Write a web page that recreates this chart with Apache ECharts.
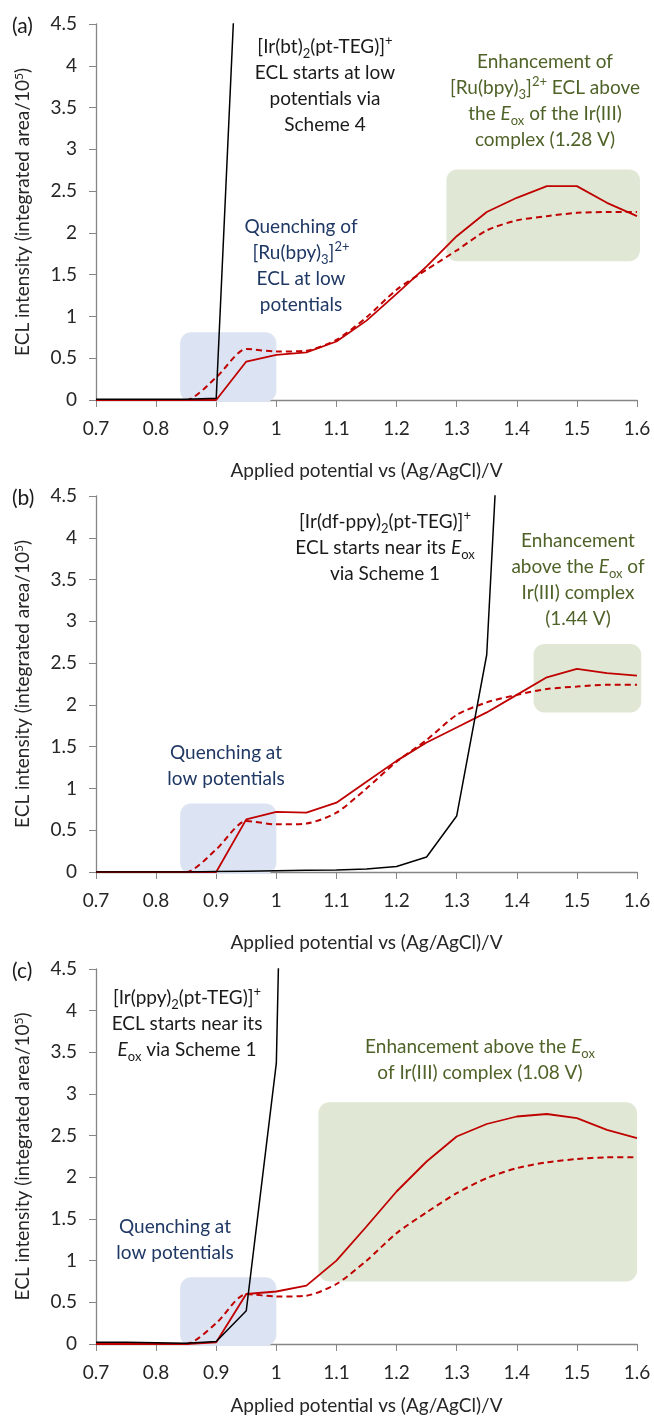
<!DOCTYPE html>
<html><head><meta charset="utf-8">
<script src="https://cdn.jsdelivr.net/npm/echarts@6/dist/echarts.min.js"></script>
<style>html,body{margin:0;padding:0;background:#fff}#c{width:654px;height:1416px}</style>
</head><body><div id="c"></div>
<script>
// ---- data ----
const potentials = [0.7,0.75,0.8,0.85,0.9,0.95,1.0,1.05,1.1,1.15,1.2,1.25,1.3,1.35,1.4,1.45,1.5,1.55,1.6];
const xTicks = [0.7,0.8,0.9,1,1.1,1.2,1.3,1.4,1.5,1.6];
const yTicks = [0,0.5,1,1.5,2,2.5,3,3.5,4,4.5];

// panel (a)
const ruA    = [0,0,0,0,0.27,0.61,0.58,0.59,0.72,0.99,1.32,1.56,1.79,2.03,2.15,2.20,2.24,2.25,2.25];
const mixA   = [0,0,0,0,0,0.46,0.54,0.57,0.70,0.95,1.27,1.60,1.96,2.25,2.42,2.56,2.56,2.36,2.20];
const irA    = [0.01,0.01,0.01,0.01,0.02,7.9];
// panel (b)
const ruB    = [0,0,0,0,0.27,0.61,0.57,0.58,0.71,1.00,1.32,1.58,1.88,2.03,2.12,2.19,2.22,2.24,2.24];
const mixB   = [0,0,0,0,0,0.63,0.72,0.71,0.83,1.08,1.33,1.55,1.73,1.91,2.12,2.33,2.43,2.38,2.35];
const irB    = [0,0,0,0,0.005,0.01,0.015,0.02,0.025,0.035,0.065,0.18,0.67,2.6,9.5];
// panel (c)
const ruC    = [0,0,0,0,0.25,0.60,0.57,0.58,0.72,1.00,1.33,1.58,1.81,1.99,2.11,2.18,2.22,2.24,2.24];
const mixC   = [0,0,0,0,0.02,0.60,0.63,0.70,1.00,1.41,1.83,2.19,2.49,2.64,2.73,2.76,2.71,2.57,2.47];
const irC    = [0.02,0.02,0.015,0.01,0.03,0.40,3.37,20];

// highlight regions [x0, y0, x1, y1] in data units
const quenchBoxes  = [[0.84,-0.02,1.0,0.81],[0.84,-0.02,1.0,0.82],[0.84,-0.02,1.0,0.80]];
const enhanceBoxes = [[1.283,1.66,1.605,2.76],[1.428,1.91,1.607,2.73],[1.07,0.75,1.6,2.9]];

const panelLabels = ['(a)','(b)','(c)'];
const xTitle = 'Applied potential vs (Ag/AgCl)/V';
const yTitle = '{n|ECL intensity (integrated area/10}{s|5}{n|)}';

const notes = [
  { black: '[Ir(bt){sub|2}(pt-TEG)]{sup|+}\nECL starts at low\npotentials via\nScheme 4',
    green: 'Enhancement of\n[Ru(bpy){sub|3}]{sup|2+} ECL above\nthe {i|E}{sub|ox} of the Ir(III)\ncomplex (1.28 V)',
    blue:  'Quenching of\n[Ru(bpy){sub|3}]{sup|2+}\nECL at low\npotentials' },
  { black: '[Ir(df-ppy){sub|2}(pt-TEG)]{sup|+}\nECL starts near its {i|E}{sub|ox}\nvia Scheme 1',
    green: 'Enhancement\nabove the {i|E}{sub|ox} of\nIr(III) complex\n(1.44 V)',
    blue:  'Quenching at\nlow potentials' },
  { black: '[Ir(ppy){sub|2}(pt-TEG)]{sup|+}\nECL starts near its\n{i|E}{sub|ox} via Scheme 1',
    green: 'Enhancement above the {i|E}{sub|ox}\nof Ir(III) complex (1.08 V)',
    blue:  'Quenching at\nlow potentials' }
];

// ---- layout ----
const FONT = 'Lato';
const FS = 19;
const gridTops = [24, 496, 969];
const xNameGaps = [61, 61, 52];
const GH = 376, GL = 96, GW = 541;
const notePos = [
  { black:[325,34], green:[545,49], blue:[301,214] },
  { black:[385,509], green:[578,528], blue:[226,740] },
  { black:[187,985], green:[480,1034], blue:[175,1214] }
];
const COL = { black:'#1a1a1a', green:'#4f6228', blue:'#1f3864' };
const RED = '#c00000';

function pairs(arr){ return arr.map((v,i)=>[potentials[i], v]); }
function fmt(v){ return String(Math.round(v*100)/100); }
function richFor(color){
  return {
    sub:{fill:color, fontSize:13, lineHeight:16, verticalAlign:'bottom', fontFamily:FONT},
    sup:{fill:color, fontSize:13, lineHeight:16, verticalAlign:'top', fontFamily:FONT},
    i:{fill:color, fontSize:FS, lineHeight:26, fontStyle:'italic', fontFamily:FONT}
  };
}

const grids=[], xAxes=[], yAxes=[], series=[], graphics=[];
const data = [[ruA,mixA,irA],[ruB,mixB,irB],[ruC,mixC,irC]];

for (let p=0;p<3;p++){
  grids.push({left:GL, top:gridTops[p], width:GW, height:GH, containLabel:false});
  xAxes.push({
    type:'value', gridIndex:p, min:0.7, max:1.6, interval:0.1,
    name:xTitle, nameLocation:'middle', nameGap:xNameGaps[p],
    nameTextStyle:{fontFamily:FONT, fontSize:FS, color:'#262626'},
    axisLine:{lineStyle:{color:'#868686', width:1.3}},
    axisTick:{show:true, length:7, lineStyle:{color:'#868686'}},
    axisLabel:{fontFamily:FONT, fontSize:FS, color:'#262626', margin:19, formatter:fmt},
    splitLine:{show:false}
  });
  yAxes.push({
    type:'value', gridIndex:p, min:0, max:4.5, interval:0.5,
    name:yTitle, nameLocation:'middle', nameGap:64, nameRotate:90,
    nameTextStyle:{fontFamily:FONT, fontSize:FS, color:'#262626',
      rich:{n:{fontFamily:FONT,fontSize:FS,color:'#262626'}, s:{fontFamily:FONT,fontSize:12,color:'#262626',verticalAlign:'top',lineHeight:12}}},
    axisLine:{show:true, lineStyle:{color:'#868686', width:1.3}},
    axisTick:{show:true, length:7, lineStyle:{color:'#868686'}},
    axisLabel:{fontFamily:FONT, fontSize:FS, color:'#262626', margin:19, formatter:fmt},
    splitLine:{show:false}
  });
  const boxes = [
    {b:quenchBoxes[p], c:'#dce3f2'},
    {b:enhanceBoxes[p], c:'#e0e8d5'}
  ];
  series.push({
    type:'custom', xAxisIndex:p, yAxisIndex:p, z:1, silent:true, clip:false,
    data: boxes.map(o=>({value:o.b, itemStyle:{color:o.c}})),
    encode:{x:[0,2], y:[1,3]},
    renderItem:function(params, api){
      const a = api.coord([api.value(0), api.value(3)]);
      const b = api.coord([api.value(2), api.value(1)]);
      return {type:'rect', shape:{x:a[0], y:a[1], width:b[0]-a[0], height:b[1]-a[1], r:11},
        style:{fill:api.visual('color')}};
    }
  });
  const [ru, mix, ir] = data[p];
  series.push({type:'line', xAxisIndex:p, yAxisIndex:p, z:3, data:pairs(ru), symbol:'none',
    smooth:0.25, lineStyle:{color:RED, width:2, type:[6,4]}});
  series.push({type:'line', xAxisIndex:p, yAxisIndex:p, z:4, data:pairs(mix), symbol:'none',
    lineStyle:{color:RED, width:1.8}});
  series.push({type:'line', xAxisIndex:p, yAxisIndex:p, z:5, data:pairs(ir), symbol:'none',
    clip:true, lineStyle:{color:'#000', width:1.5}});

  graphics.push({type:'text', x:12, y:gridTops[p]+2, z:10,
    style:{text:panelLabels[p], fontFamily:FONT, fontSize:21, fill:'#1a1a1a', verticalAlign:'middle'}});
  for (const k of ['black','green','blue']){
    graphics.push({type:'text', x:notePos[p][k][0], y:notePos[p][k][1], z:10,
      style:{text:notes[p][k], fontFamily:FONT, fontSize:FS, lineHeight:26, fill:COL[k],
        align:'center', verticalAlign:'top', rich:richFor(COL[k])}});
  }
}

const chart = echarts.init(document.getElementById('c'));
chart.setOption({
  animation:false,
  backgroundColor:'#fff',
  grid:grids, xAxis:xAxes, yAxis:yAxes, series:series, graphic:graphics
});
</script>
</body></html>
